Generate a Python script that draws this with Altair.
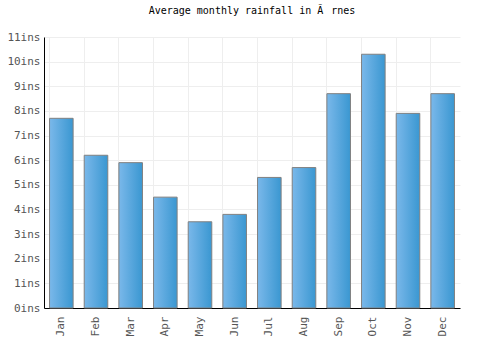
import altair as alt
import pandas as pd

months = ["Jan", "Feb", "Mar", "Apr", "May", "Jun", "Jul", "Aug", "Sep", "Oct", "Nov", "Dec"]
rainfall = [7.7, 6.2, 5.9, 4.5, 3.5, 3.8, 5.3, 5.7, 8.7, 10.3, 7.9, 8.7]

df = pd.DataFrame({"month": months, "rain": rainfall})
FONT = "DejaVu Sans Mono"

chart = alt.Chart(df, title=alt.TitleParams("Average monthly rainfall in Ã\u0085rnes", font=FONT, fontSize=10, fontWeight="normal", color="#000", offset=15)).mark_bar(
    color=alt.Gradient(gradient="linear", x1=0, x2=1, y1=0, y2=0,
                       stops=[alt.GradientStop(color="#7ab8ea", offset=0), alt.GradientStop(color="#3a97d1", offset=1)]),
    stroke="#808080", strokeWidth=1
).encode(
    x=alt.X("month:N", sort=months, title=None,
            scale=alt.Scale(paddingInner=0.32, paddingOuter=0.16),
            axis=alt.Axis(labelAngle=-90, labelFont=FONT, labelFontSize=11, labelColor="#555",
                          domainColor="#000", ticks=False, grid=True, gridColor="#eeeeee",
                          bandPosition=0, labelPadding=8, labelBaseline="middle", labelAlign="right")),
    y=alt.Y("rain:Q", title=None, scale=alt.Scale(domain=[0, 11], nice=False),
            axis=alt.Axis(values=list(range(12)), labelExpr="datum.value + 'ins'", labelFont=FONT, labelFontSize=11,
                          labelColor="#555", domainColor="#000", ticks=False, gridColor="#eeeeee", labelPadding=4))
).properties(width=416, height=271, padding={"left": 44, "top": 37, "right": 40, "bottom": 42}, autosize="none").configure_view(stroke=None)

chart.save("out.html", embed_options={"renderer": "svg", "actions": False})
